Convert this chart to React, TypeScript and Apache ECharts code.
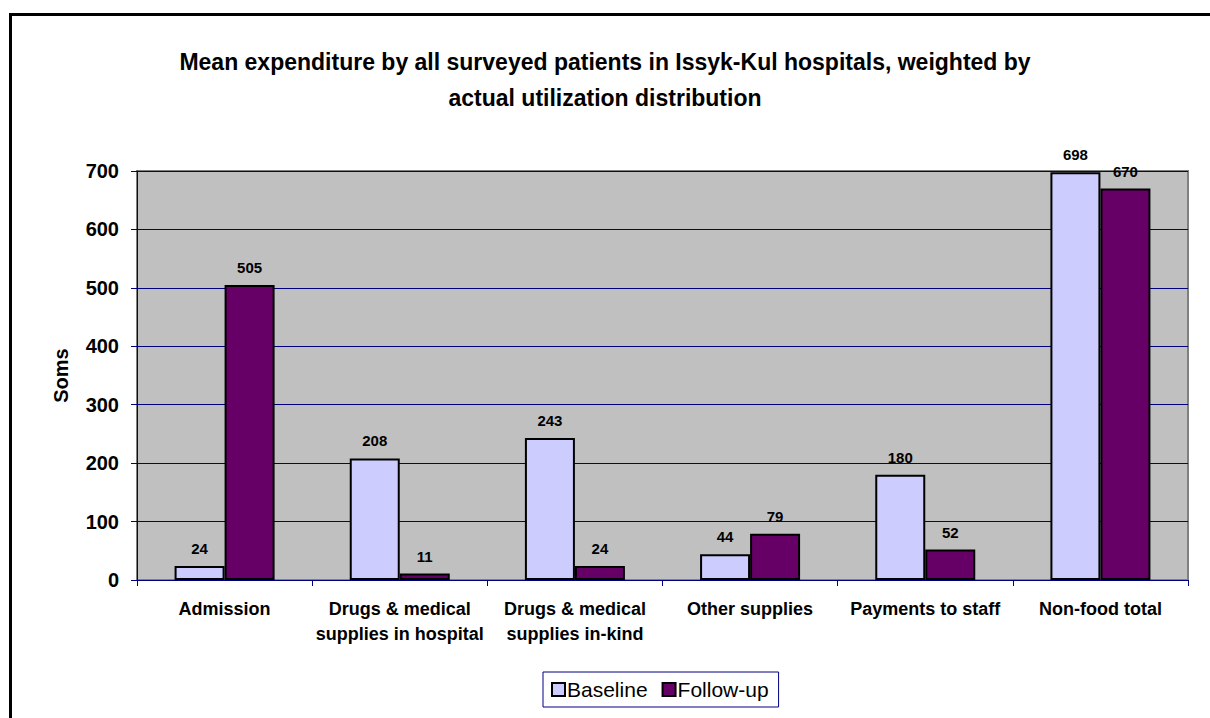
import React, { useEffect, useRef } from "react";
import * as echarts from "echarts";

const categories = [
  "Admission",
  "Drugs & medical\nsupplies in hospital",
  "Drugs & medical\nsupplies in-kind",
  "Other supplies",
  "Payments to staff",
  "Non-food total",
];
const baseline = [24, 208, 243, 44, 180, 698];
const followUp = [505, 11, 24, 79, 52, 670];
const yTicks = [0, 100, 200, 300, 400, 500, 600, 700];
const titleText =
  "Mean expenditure by all surveyed patients in Issyk-Kul hospitals, weighted by\nactual utilization distribution";

const FONT = "Arial, 'Liberation Sans', sans-serif";

export default function App() {
  const ref = useRef<HTMLDivElement>(null);
  useEffect(() => {
    if (!ref.current) return;
    const chart = echarts.init(ref.current, null, { renderer: "svg" });
    const labelStyle = {
      show: true,
      position: "top" as const,
      distance: 10,
      fontFamily: FONT,
      fontWeight: "bold" as const,
      fontSize: 15,
      color: "#000",
    };
    chart.setOption({
      animation: false,
      backgroundColor: "#fff",
      title: {
        text: titleText,
        left: "center",
        top: 39,
        textStyle: {
          fontFamily: FONT,
          fontWeight: "bold",
          fontSize: 23,
          lineHeight: 36,
          color: "#000",
        },
      },
      graphic: [
        {
          type: "rect",
          shape: { x: 10.5, y: 14.5, width: 1400, height: 900 },
          style: { fill: "none", stroke: "#000", lineWidth: 3 },
          silent: true,
        },
      ],
      legend: {
        left: 543,
        top: 672,
        itemWidth: 13,
        itemHeight: 13,
        itemGap: 14,
        padding: [7, 10, 7, 8],
        borderColor: "#000080",
        borderWidth: 1,
        icon: "rect",
        textStyle: { fontFamily: FONT, fontSize: 21, color: "#000", padding: [0, 0, 0, -3] },
        data: ["Baseline", "Follow-up"],
      },
      grid: {
        left: 137,
        top: 171,
        right: 22,
        bottom: 138,
        show: true,
        backgroundColor: "#C0C0C0",
        borderColor: "#808080",
        borderWidth: 2,
      },
      xAxis: {
        type: "category",
        data: categories,
        axisLine: { lineStyle: { color: "#000080", width: 1 } },
        axisTick: { show: true, alignWithLabel: false, length: 6, lineStyle: { color: "#000080" } },
        axisLabel: {
          interval: 0,
          margin: 16,
          fontFamily: FONT,
          fontWeight: "bold",
          fontSize: 18,
          lineHeight: 25,
          color: "#000",
        },
      },
      yAxis: {
        type: "value",
        min: 0,
        max: 700,
        interval: 100,
        name: "Soms",
        nameLocation: "middle",
        nameGap: 66,
        nameRotate: 90,
        nameTextStyle: { fontFamily: FONT, fontWeight: "bold", fontSize: 20, color: "#000" },
        axisLine: { show: true, lineStyle: { color: "#000080", width: 1 } },
        axisTick: { show: true, length: 6, lineStyle: { color: "#000080" } },
        splitLine: { show: true, lineStyle: { color: "#000080", width: 1 } },
        axisLabel: {
          margin: 18,
          fontFamily: FONT,
          fontWeight: "bold",
          fontSize: 20,
          color: "#000",
          formatter: (v: number) => (yTicks.includes(v) ? String(v) : ""),
        },
      },
      series: [
        {
          name: "Baseline",
          type: "bar",
          data: baseline,
          barWidth: 50,
          barGap: "0%",
          itemStyle: { color: "#CCCCFF", borderColor: "#000", borderWidth: 2 },
          label: labelStyle,
        },
        {
          name: "Follow-up",
          type: "bar",
          data: followUp,
          barWidth: 50,
          barGap: "0%",
          itemStyle: { color: "#660066", borderColor: "#000", borderWidth: 2 },
          label: labelStyle,
        },
      ],
    });
    return () => chart.dispose();
  }, []);
  return (
    <div
      ref={ref}
      style={{ position: "fixed", left: 0, top: 0, width: 1210, height: 718 }}
    />
  );
}
